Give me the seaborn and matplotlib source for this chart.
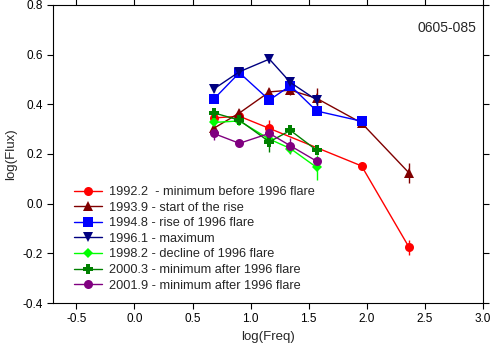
import pandas as pd
import matplotlib
matplotlib.use('Agg')
import matplotlib.pyplot as plt
import seaborn as sns

# log10 of observing frequencies (GHz)
freq_a = [0.681, 0.903, 1.161, 1.954, 2.362]
freq_b = [0.681, 0.903, 1.161, 1.342, 1.568, 1.954, 2.362]
freq_c = [0.681, 0.903, 1.161, 1.342, 1.568, 1.954]
freq_d = [0.681, 0.903, 1.161, 1.342, 1.568]

labels = ['1992.2  - minimum before 1996 flare',
          '1993.9 - start of the rise',
          '1994.8 - rise of 1996 flare',
          '1996.1 - maximum',
          '1998.2 - decline of 1996 flare',
          '2000.3 - minimum after 1996 flare',
          '2001.9 - minimum after 1996 flare']

flux_1992 = [0.345, 0.352, 0.303, 0.152, -0.175]
err_1992 = [0.015, 0.015, 0.035, 0.015, 0.03]
flux_1993 = [0.303, 0.365, 0.450, 0.457, 0.424, 0.325, 0.124]
err_1993 = [0.015, 0.015, 0.015, 0.02, 0.04, 0.015, 0.04]
flux_1994 = [0.420, 0.527, 0.417, 0.475, 0.373, 0.332]
err_1994 = [0.01, 0.01, 0.01, 0.015, 0.01, 0.01]
flux_1996 = [0.461, 0.531, 0.582, 0.488, 0.417]
err_1996 = [0.01, 0.01, 0.015, 0.02, 0.02]
flux_1998 = [0.327, 0.333, 0.260, 0.222, 0.146]
err_1998 = [0.015, 0.015, 0.015, 0.02, 0.05]
flux_2000 = [0.366, 0.336, 0.249, 0.295, 0.215]
err_2000 = [0.015, 0.015, 0.04, 0.015, 0.015]
flux_2001 = [0.283, 0.243, 0.283, 0.233, 0.171]
err_2001 = [0.025, 0.01, 0.015, 0.03, 0.015]

colors = ['#ff0000', '#800000', '#0000ff', '#000080', '#00ff00', '#008000', '#800080']
markers = ['o', '^', 's', 'v', 'D', 'P', 'o']
sizes = [6.5, 6.5, 6.5, 6.5, 5.5, 7.5, 6.5]

series = [(freq_a, flux_1992, err_1992), (freq_b, flux_1993, err_1993),
          (freq_c, flux_1994, err_1994), (freq_d, flux_1996, err_1996),
          (freq_d, flux_1998, err_1998), (freq_d, flux_2000, err_2000),
          (freq_d, flux_2001, err_2001)]

rows = []
for lab, (fx, fy, fe) in zip(labels, series):
    for x, y, e in zip(fx, fy, fe):
        rows.append({'freq': x, 'flux': y, 'err': e, 'epoch': lab})
df = pd.DataFrame(rows)

sns.set_style('ticks')
plt.rcParams['font.family'] = ['Liberation Sans', 'DejaVu Sans']

fig = plt.figure(figsize=(4.91, 3.52), dpi=100)
ax = fig.add_axes([0.108, 0.139, 0.876, 0.847])

for lab, c in zip(labels, colors):
    d = df[df['epoch'] == lab]
    ax.errorbar(d['freq'], d['flux'], yerr=d['err'], fmt='none',
                ecolor=c, elinewidth=1, capsize=0, zorder=1)

for lab, c, m, s in zip(labels, colors, markers, sizes):
    d = df[df['epoch'] == lab]
    sns.lineplot(data=d, x='freq', y='flux', color=c, marker=m, markersize=s,
                 markeredgewidth=0, linewidth=1, sort=False, label=lab,
                 ax=ax, zorder=2)

ax.set_xlim(-0.7, 3.0)
ax.set_ylim(-0.4, 0.8)
ax.set_xticks([-0.5, 0.0, 0.5, 1.0, 1.5, 2.0, 2.5, 3.0])
ax.set_yticks([-0.4, -0.2, 0.0, 0.2, 0.4, 0.6, 0.8])
ax.xaxis.set_major_formatter(matplotlib.ticker.FormatStrFormatter('%.1f'))
ax.yaxis.set_major_formatter(matplotlib.ticker.FormatStrFormatter('%.1f'))
ax.tick_params(axis='both', labelsize=8.5, direction='out', length=4,
               width=0.8, colors='black')
ax.tick_params(top=True, right=True)
for sp in ax.spines.values():
    sp.set_linewidth(0.8)
    sp.set_color('black')

ax.set_xlabel('log(Freq)', fontsize=9.5)
ax.set_ylabel('log(Flux)', fontsize=9.5)

ax.text(0.984, 0.923, '0605-085', transform=ax.transAxes, ha='right',
        va='center', fontsize=10)

ax.legend(loc='lower left', bbox_to_anchor=(0.021, 0.0), frameon=False,
          fontsize=9.2, handlelength=2.2, handletextpad=0.55,
          labelspacing=0.28, borderaxespad=0.5)

fig.savefig('out.png', dpi=100)
